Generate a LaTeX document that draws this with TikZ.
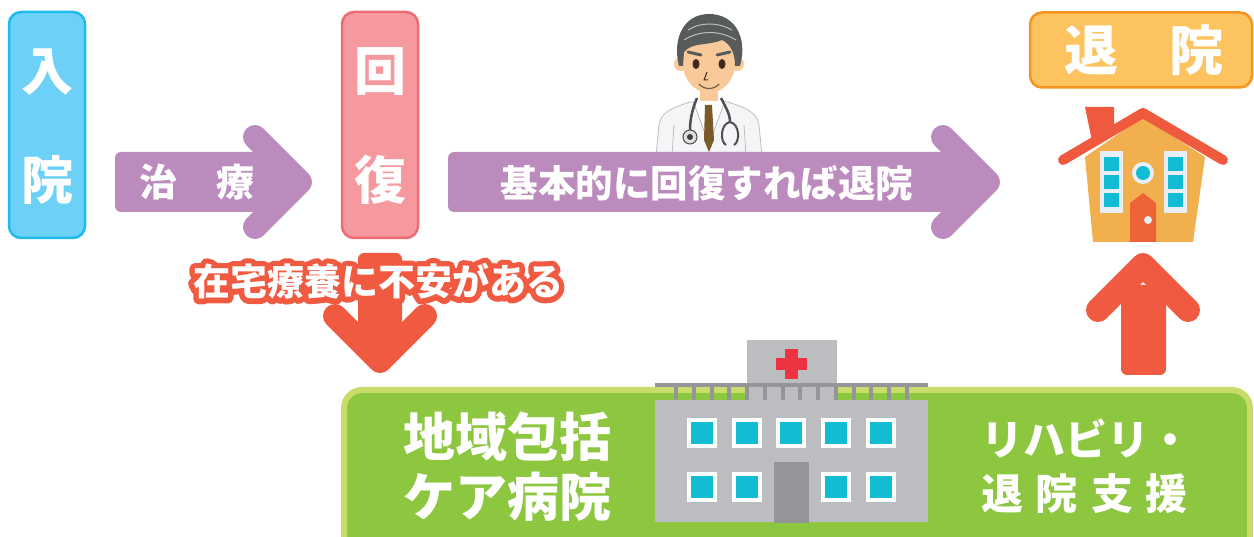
\documentclass[tikz,border=0pt]{standalone}
\usepackage{fontspec}
\newfontfamily\jp{Noto Sans CJK JP}
\definecolor{bluefill}{HTML}{6DD0F7}
\definecolor{blueline}{HTML}{1EBBEE}
\definecolor{pinkfill}{HTML}{F6999E}
\definecolor{pinkline}{HTML}{EE6B73}
\definecolor{orfill}{HTML}{FDC35F}
\definecolor{orline}{HTML}{F7941E}
\definecolor{purp}{HTML}{BC8BBE}
\definecolor{redarr}{HTML}{F05A40}
\definecolor{grfill}{HTML}{8DC63F}
\definecolor{grline}{HTML}{C8DC6B}
\definecolor{hgray}{HTML}{BCBDC0}
\definecolor{hdark}{HTML}{939598}
\definecolor{cyanw}{HTML}{12BCD4}
\definecolor{crossred}{HTML}{EE3340}
\definecolor{housebody}{HTML}{F1AF4E}
\definecolor{roofred}{HTML}{EF5A3E}
\definecolor{doorred}{HTML}{EE6237}
\definecolor{frame}{HTML}{E8EEF5}
\definecolor{skin}{HTML}{F9C99A}
\definecolor{hair}{HTML}{575C5B}
\definecolor{eyec}{HTML}{3F2A1D}
\definecolor{coat}{HTML}{F4F5F6}
\definecolor{coatline}{HTML}{BDBDBD}
\definecolor{tiec}{HTML}{7B5A2A}
\definecolor{steth}{HTML}{4D4F52}
% stroked (outlined) glyphs for the caption's red rim
\newcommand\rimtext[1]{\special{pdf:literal direct 2 Tr 11 w 1 j 1 J 0.941 0.353 0.251 RG}#1\special{pdf:literal direct 0 Tr}}
\tikzset{
  jpw/.style={font=\jp\bfseries, text=white, inner sep=0pt},
  sz/.style={font=\jp\bfseries\fontsize{#1}{#1}\selectfont},
  vbox/.style={rounded corners=12pt, line width=2.5pt},
  headp/.style={draw=purp, line width=24pt, line cap=round, line join=round},
  headr/.style={draw=redarr, line width=24pt, line cap=round, line join=round},
}
\begin{document}
\begin{tikzpicture}[x=1pt,y=-1pt]
\useasboundingbox (0,0) rectangle (1254,537);

% ---- stage boxes ----
\node[vbox, draw=blueline, fill=bluefill, minimum width=76pt, minimum height=226pt] (nyuin) at (47,125) {};
\node[jpw, sz=52] (nyu1) at (47,72) {入};
\node[jpw, sz=52] (nyu2) at (47,180) {院};

\node[vbox, draw=pinkline, fill=pinkfill, minimum width=76pt, minimum height=226pt] (kaifuku) at (380,125) {};
\node[jpw, sz=52] (kai1) at (380,72) {回};
\node[jpw, sz=52] (kai2) at (380,180) {復};

\node[vbox, draw=orline, fill=orfill, minimum width=222pt, minimum height=75pt] (taiin) at (1141,50) {};
\node[jpw, sz=54] (taiin1) at (1144,50) {退\kern52pt院};

% ---- doctor ----
\filldraw[fill=coat, draw=coatline, line width=0.8pt] (656,156) -- (659,125)
  .. controls (661,112) and (672,108) .. (690,102) -- (728,102)
  .. controls (746,108) and (757,112) .. (759,125) -- (762,156) -- cycle;
\fill[skin] (700,86) rectangle (718,106);
\fill[white] (693,101) -- (725,101) -- (709,146) -- cycle;
\draw[coatline, line width=0.8pt] (693,101) -- (703,128) -- (709,146) -- (715,128) -- (725,101);
\draw[coatline, line width=0.8pt] (672,156) -- (674,125) (746,156) -- (744,125);
\fill[tiec] (705,105) -- (712,105) -- (714,140) -- (709,152) -- (704,140) -- cycle;
\fill[skin] (681,64) circle (7pt);
\fill[skin] (737,64) circle (7pt);
\fill[skin] (709,60) ellipse (27pt and 33pt);
\fill[hair] (679,66) .. controls (672,38) and (684,14) .. (709,14)
  .. controls (735,14) and (748,38) .. (740,66) -- (735,66)
  .. controls (735,52) and (730,44) .. (722,40)
  .. controls (708,46) and (692,42) .. (684,52) -- (683,66) -- cycle;
\draw[white!60!hair, line width=1pt] (688,30) .. controls (700,22) and (718,22) .. (732,30);
\draw[white!60!hair, line width=1pt] (684,40) .. controls (700,30) and (720,30) .. (736,40);
\draw[hair, line width=3pt, line cap=round] (688,52) -- (701,55);
\draw[hair, line width=3pt, line cap=round] (717,55) -- (730,52);
\fill[eyec] (696,64) ellipse (3.5pt and 5pt);
\fill[eyec] (722,64) ellipse (3.5pt and 5pt);
\draw[eyec, line width=1pt] (707,72) -- (704,80) -- (708,80);
\draw[eyec!70!skin, line width=1.2pt] (699,84) .. controls (704,90) and (714,90) .. (719,84);
\draw[steth, line width=2.5pt] (697,98) .. controls (692,110) and (690,120) .. (690,130);
\draw[steth, line width=2.5pt] (721,98) .. controls (726,108) and (730,114) .. (730,122);
\draw[steth, line width=2pt] (730,122) .. controls (720,124) and (720,142) .. (726,145)
  (730,122) .. controls (740,124) and (740,142) .. (734,145);
\filldraw[fill=gray!25, draw=steth, line width=1pt] (690,137) circle (7pt);
\fill[black!75] (690,137) circle (3pt);

% ---- horizontal arrows ----
\fill[purp, rounded corners=6pt] (115,152) rectangle (285,212);
\draw[headp] (255,137) -- (300,182) -- (255,227);
\node[jpw, sz=38] (chiryo) at (197,182) {治\kern39pt療};

\fill[purp, rounded corners=6pt] (448,152) rectangle (973,212);
\draw[headp] (943,137) -- (988,182) -- (943,227);
\node[jpw, sz=37.5] (kihon) at (707,183) {基本的に回復すれば退院};

% ---- house ----
\fill[roofred] (1085,107) -- (1114,107) -- (1114,126) -- (1092,141) -- cycle;
\fill[housebody] (1085,157) -- (1143,117) -- (1205,157) -- (1193,242) -- (1093,242) -- cycle;
\draw[roofred, line width=10pt, line cap=round, line join=round] (1063,160) -- (1143,113) -- (1223,160);
\foreach \wx in {1100,1164} {
  \fill[frame] (\wx,151) rectangle +(23,62);
  \foreach \wy in {157,175,193} \fill[cyanw] (\wx+4,\wy) rectangle +(15,14);
}
\fill[frame] (1143,173) circle (11pt);
\fill[cyanw] (1143,173) circle (7pt);
\fill[doorred] (1130,203) -- (1143,193) -- (1156,203) -- (1156,242) -- (1130,242) -- cycle;
\fill[frame] (1148,220) circle (4pt);

% ---- up arrow ----
\fill[redarr, rounded corners=6pt] (1121,285) rectangle (1166,375);
\draw[headr] (1098,310) -- (1143,265) -- (1188,310);

% ---- hospital panel ----
\filldraw[fill=grfill, draw=grline, line width=6pt, rounded corners=18pt] (344,390) rectangle (1250,580);
\node[jpw, sz=52, align=center] (chiiki) at (507,467) {地域包括\\[8pt]ケア病院};
\node[jpw, sz=42, align=left] (riha) at (1086,466) {リハビリ・\\[12pt]退\kern13pt院\kern13pt支\kern13pt援};

\fill[hgray] (747,340) rectangle (837,400);
\fill[crossred] (785,349) rectangle (798,379);
\fill[crossred] (776,358) rectangle (807,370);
\fill[hdark] (655,383) rectangle (928,387);
\foreach \i in {0,...,13} \fill[hdark] ({676+17.77*\i-2},387) rectangle ({676+17.77*\i+2},400);
\fill[hgray] (655,400) rectangle (928,522);
\foreach \wx in {687,732,776,821,866} {
  \fill[white] (\wx,418) rectangle +(30,30);
  \fill[cyanw] (\wx+4,422) rectangle +(22,22);
}
\foreach \wx in {687,732,821,866} {
  \fill[white] (\wx,472) rectangle +(30,30);
  \fill[cyanw] (\wx+4,476) rectangle +(22,22);
}
\fill[hdark] (774,462) rectangle (809,523);

% ---- down arrow with outlined caption ----
\fill[redarr, rounded corners=6pt] (358,253) rectangle (402,346);
\draw[headr] (335,316) -- (380,361) -- (425,316);
\node[sz=37, text=redarr, inner sep=0pt] (fuanrim) at (378,281) {\rimtext{在宅療養に不安がある}};
\node[jpw, sz=37] (fuan) at (fuanrim) {在宅療養に不安がある};
\end{tikzpicture}
\end{document}
